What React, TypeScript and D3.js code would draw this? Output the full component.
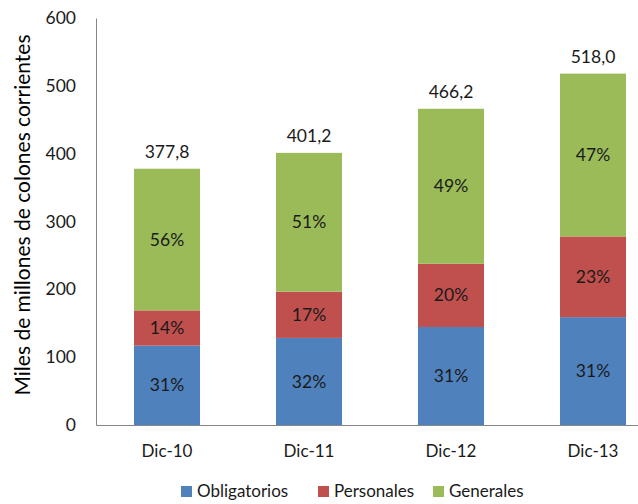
import React, { useEffect, useRef } from "react";
import * as d3 from "d3";

const categories = ["Dic-10", "Dic-11", "Dic-12", "Dic-13"];
const obligatorios = [117, 128.4, 144.5, 159];
const personales = [52, 68.2, 93.2, 119];
const generales = [208.8, 204.6, 228.5, 240];
const totalLabels = ["377,8", "401,2", "466,2", "518,0"];
const pctObligatorios = ["31%", "32%", "31%", "31%"];
const pctPersonales = ["14%", "17%", "20%", "23%"];
const pctGenerales = ["56%", "51%", "49%", "47%"];
const seriesNames = ["Obligatorios", "Personales", "Generales"];
const colors = ["#4f81bd", "#c0504d", "#9bbb59"];
const yTicks = [0, 100, 200, 300, 400, 500, 600];

const FONT = "Lato, 'Open Sans', sans-serif";

export default function App() {
  const ref = useRef<SVGSVGElement>(null);

  useEffect(() => {
    const svg = d3.select(ref.current);
    svg.selectAll("*").remove();

    const y = d3.scaleLinear().domain([0, 600]).range([425, 18]);
    const x = d3.scaleBand().domain(categories).range([96, 664]).paddingInner(0.535).paddingOuter(0.2675);

    const rows = categories.map((c, i) => ({
      cat: c,
      Obligatorios: obligatorios[i],
      Personales: personales[i],
      Generales: generales[i],
    }));
    const stacked = d3.stack<any>().keys(seriesNames)(rows);
    const pcts = [pctObligatorios, pctPersonales, pctGenerales];

    // axes
    const yAxis = svg.append("g").attr("transform", "translate(96,0)")
      .call(d3.axisLeft(y).tickValues(yTicks).tickSize(0).tickPadding(20));
    yAxis.select(".domain").attr("stroke", "#868686");
    yAxis.selectAll("text").attr("font-family", FONT).attr("font-size", 17.5).attr("fill", "#1a1a1a");

    const xAxis = svg.append("g").attr("transform", "translate(0,425)")
      .call(d3.axisBottom(x).tickSize(0).tickPadding(20));
    xAxis.select(".domain").attr("stroke", "#868686");
    xAxis.selectAll("text").attr("font-family", FONT).attr("font-size", 17).attr("fill", "#1a1a1a");

    stacked.forEach((layer, si) => {
      const g = svg.append("g");
      g.selectAll("rect").data(layer).enter().append("rect")
        .attr("x", (d: any) => x(d.data.cat)!)
        .attr("width", x.bandwidth())
        .attr("y", (d: any) => y(d[1]))
        .attr("height", (d: any) => y(d[0]) - y(d[1]))
        .attr("fill", colors[si]);
      g.selectAll("text").data(layer).enter().append("text")
        .attr("x", (d: any) => x(d.data.cat)! + x.bandwidth() / 2)
        .attr("y", (d: any) => (y(d[0]) + y(d[1])) / 2)
        .attr("dy", "0.35em")
        .attr("text-anchor", "middle")
        .attr("font-family", FONT).attr("font-size", 17.5).attr("fill", "#1a1a1a")
        .text((d: any, i: number) => pcts[si][i]);
    });

    // totals above bars
    const top = stacked[stacked.length - 1];
    svg.append("g").selectAll("text").data(top).enter().append("text")
      .attr("x", (d: any) => x(d.data.cat)! + x.bandwidth() / 2)
      .attr("y", (d: any) => y(d[1]) - 11)
      .attr("text-anchor", "middle")
      .attr("font-family", FONT).attr("font-size", 17.5).attr("fill", "#1a1a1a")
      .text((d: any, i: number) => totalLabels[i]);

    // y title
    svg.append("text")
      .attr("transform", "translate(30,215) rotate(-90)")
      .attr("text-anchor", "middle")
      .attr("font-family", FONT).attr("font-size", 21).attr("fill", "#000")
      .text("Miles de millones de colones corrientes");

    // legend
    const legendX = [181, 318, 433];
    const lg = svg.append("g");
    seriesNames.forEach((s, i) => {
      lg.append("rect").attr("x", legendX[i]).attr("y", 486).attr("width", 11).attr("height", 11).attr("fill", colors[i]);
      lg.append("text").attr("x", legendX[i] + 16).attr("y", 491.5).attr("dy", "0.35em")
        .attr("font-family", FONT).attr("font-size", 17).attr("fill", "#1a1a1a").text(s);
    });
  }, []);

  return (
    <svg ref={ref} width={638} height={504} style={{ position: "absolute", left: 0, top: 0, background: "#fff" }} />
  );
}
